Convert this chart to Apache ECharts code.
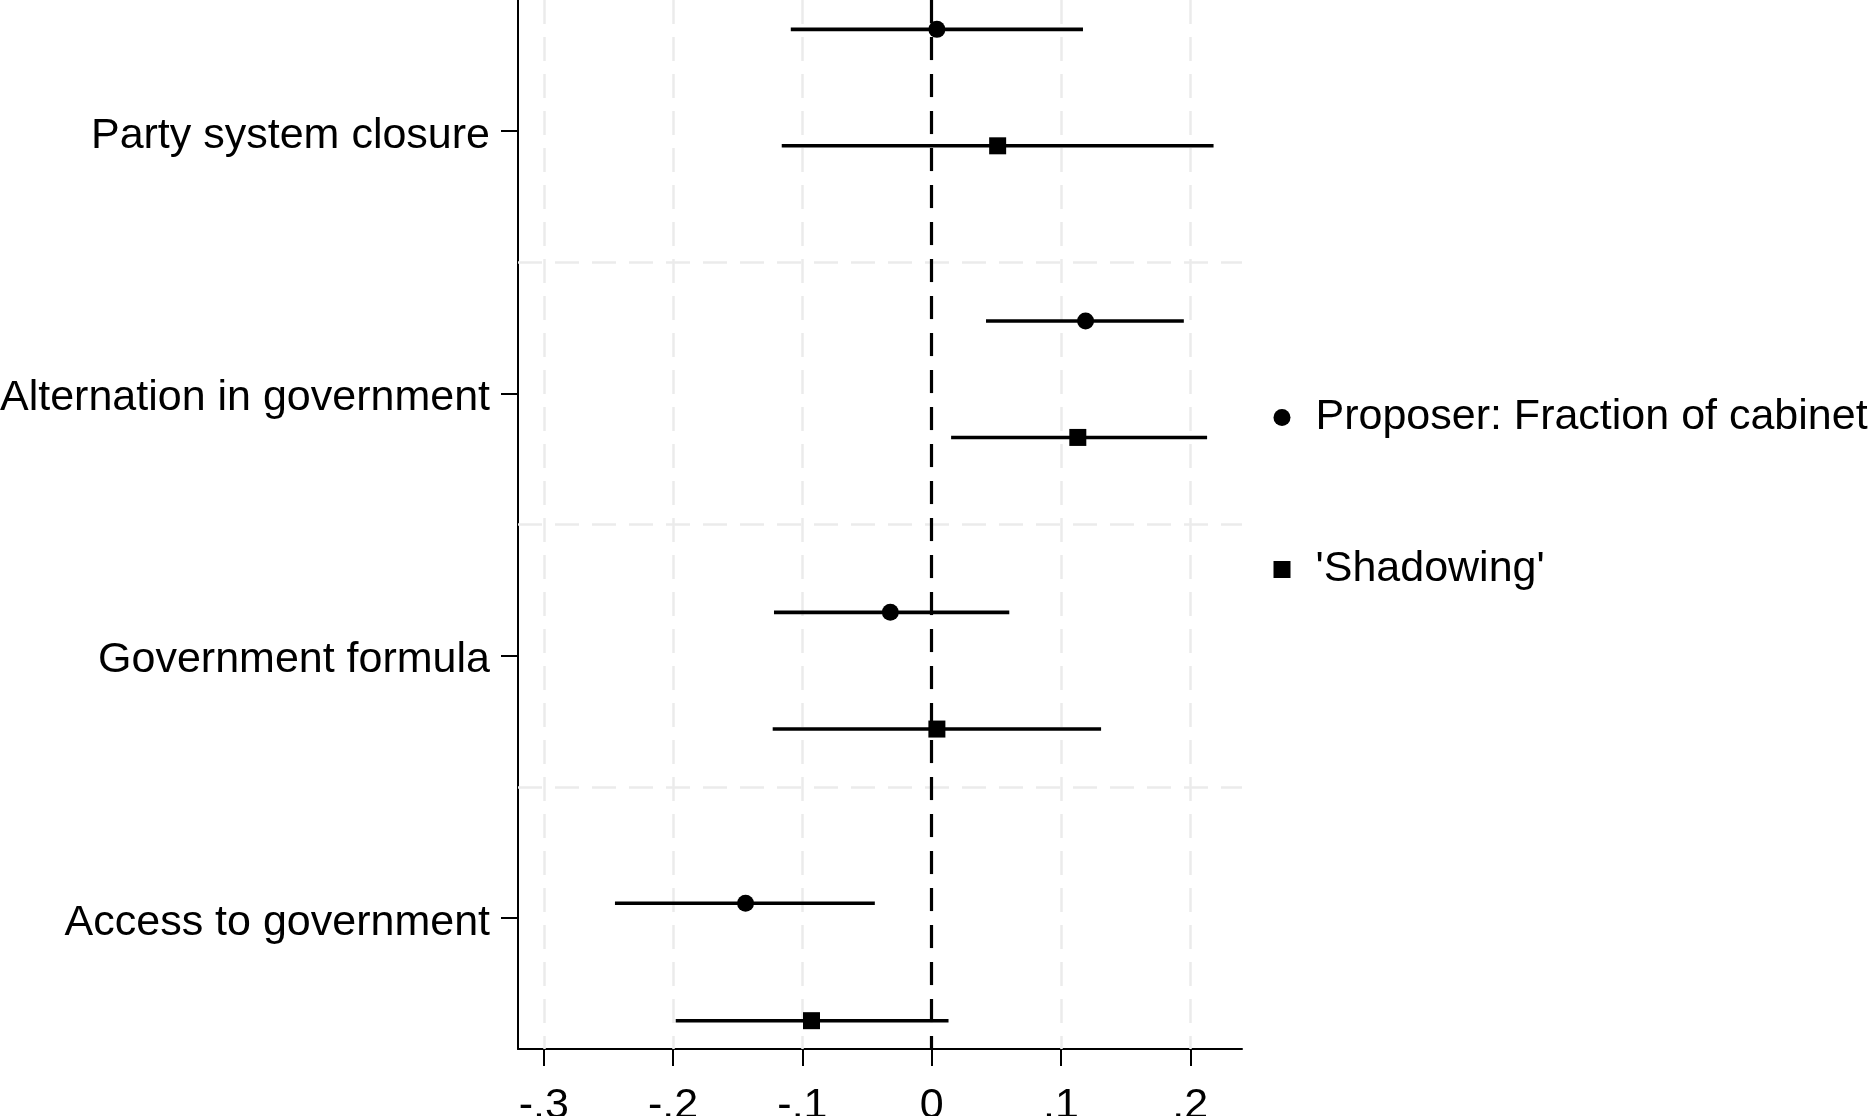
<!DOCTYPE html>
<html>
<head>
<meta charset="utf-8">
<script src="https://cdn.jsdelivr.net/npm/echarts@6/dist/echarts.min.js"></script>
<style>
html,body{margin:0;padding:0;background:#fff;}
#chart{width:1868px;height:1116px;}
</style>
</head>
<body>
<div id="chart"></div>
<script>
// ---- data ----
const categories = ['Party system closure', 'Alternation in government', 'Government formula', 'Access to government'];
const xTicks = [-0.3, -0.2, -0.1, 0, 0.1, 0.2];
const rowBounds = [1, 2, 3];

const seriesNames = ['Proposer: Fraction of cabinet', "'Shadowing'"];
const propEst = [0.004, 0.119, -0.032, -0.144];
const propLo  = [-0.109, 0.042, -0.122, -0.245];
const propHi  = [0.117, 0.195, 0.060, -0.044];
const propRow = [0.112, 1.224, 2.335, 3.444];

const shadEst = [0.051, 0.113, 0.004, -0.093];
const shadLo  = [-0.116, 0.015, -0.123, -0.198];
const shadHi  = [0.218, 0.213, 0.131, 0.013];
const shadRow = [0.556, 1.668, 2.780, 3.892];

// ---- chart ----
const FONT = '"Liberation Sans", Arial, sans-serif';
const FS = 43;

function fmt(v) {
  if (Math.abs(v) < 1e-9) return '0';
  return (v < 0 ? '-' : '') + Math.abs(v).toFixed(1).replace(/^0/, '');
}

function ciData(lo, hi, row) { return lo.map((l, i) => [l, hi[i], row[i]]); }
function ptData(est, row) { return est.map((e, i) => [e, row[i]]); }

function renderCI(params, api) {
  const p1 = api.coord([api.value(0), api.value(2)]);
  const p2 = api.coord([api.value(1), api.value(2)]);
  return {
    type: 'line',
    shape: { x1: p1[0], y1: p1[1], x2: p2[0], y2: p2[1] },
    style: { stroke: '#000', lineWidth: 3.6, lineCap: 'butt' }
  };
}

const chart = echarts.init(document.getElementById('chart'), null, { renderer: 'canvas' });
chart.setOption({
  animation: false,
  backgroundColor: '#fff',
  textStyle: { fontFamily: FONT, color: '#000' },
  grid: { left: 518, right: 626, top: 0, bottom: 67, containLabel: false, outerBoundsMode: 'none' },
  xAxis: {
    type: 'value', min: -0.32, max: 0.24,
    axisLine: { show: true, onZero: false, lineStyle: { color: '#000', width: 2 } },
    axisTick: { show: true, length: 17, customValues: xTicks, lineStyle: { color: '#000', width: 2 } },
    axisLabel: { customValues: xTicks, formatter: fmt, fontSize: FS, fontFamily: FONT, color: '#000', margin: 36 },
    splitLine: { show: false }
  },
  yAxis: [{
    type: 'category', data: categories, inverse: true,
    axisLine: { show: true, onZero: false, lineStyle: { color: '#000', width: 2 } },
    axisTick: { show: true, alignWithLabel: true, length: 17, lineStyle: { color: '#000', width: 2 } },
    axisLabel: {
      margin: 28,
      formatter: v => '{a|' + v + '}',
      rich: { a: { fontSize: FS, fontFamily: FONT, color: '#000', lineHeight: 48, padding: [10, 0, 0, 0] } }
    },
    splitLine: { show: false }
  }, {
    type: 'value', min: 0, max: 4, inverse: true, show: false,
    axisLine: { onZero: false },
    splitLine: { show: false }
  }],
  legend: [{
    data: [{ name: seriesNames[0], icon: 'circle' }],
    orient: 'vertical', left: 1273.5, top: 390, padding: 0,
    itemWidth: 17, itemHeight: 17,
    selectedMode: false,
    textStyle: { fontSize: FS, fontFamily: FONT, color: '#000', lineHeight: 50, padding: [5, 0, 0, 20] }
  }, {
    data: [{ name: seriesNames[1], icon: 'rect' }],
    orient: 'vertical', left: 1273.5, top: 542, padding: 0,
    itemWidth: 17, itemHeight: 17,
    selectedMode: false,
    textStyle: { fontSize: FS, fontFamily: FONT, color: '#000', lineHeight: 50, padding: [5, 0, 0, 20] }
  }],
  series: [{
    name: 'grid', type: 'line', data: [], yAxisIndex: 1, z: 1, silent: true,
    markLine: {
      silent: true, symbol: 'none', label: { show: false }, z: 1,
      lineStyle: { color: '#ebebeb', width: 2.5, type: [24, 13] },
      data: xTicks.map(v => ({ xAxis: v })).concat(rowBounds.map(v => ({ yAxis: v })))
    }
  }, {
    name: 'zero', type: 'line', data: [], yAxisIndex: 1, z: 2, silent: true,
    markLine: {
      silent: true, symbol: 'none', label: { show: false }, z: 2,
      lineStyle: { color: '#000', width: 3.2, type: [23, 14] },
      data: [{ xAxis: 0 }]
    }
  }, {
    name: 'propCI', type: 'custom', yAxisIndex: 1, z: 3, silent: true,
    renderItem: renderCI, encode: { x: [0, 1], y: 2 },
    data: ciData(propLo, propHi, propRow)
  }, {
    name: 'shadCI', type: 'custom', yAxisIndex: 1, z: 3, silent: true,
    renderItem: renderCI, encode: { x: [0, 1], y: 2 },
    data: ciData(shadLo, shadHi, shadRow)
  }, {
    name: seriesNames[0], type: 'scatter', yAxisIndex: 1, z: 4,
    symbol: 'circle', symbolSize: 17,
    itemStyle: { color: '#000', opacity: 1 },
    data: ptData(propEst, propRow)
  }, {
    name: seriesNames[1], type: 'scatter', yAxisIndex: 1, z: 4,
    symbol: 'rect', symbolSize: 17,
    itemStyle: { color: '#000', opacity: 1 },
    data: ptData(shadEst, shadRow)
  }]
});
</script>
</body>
</html>
